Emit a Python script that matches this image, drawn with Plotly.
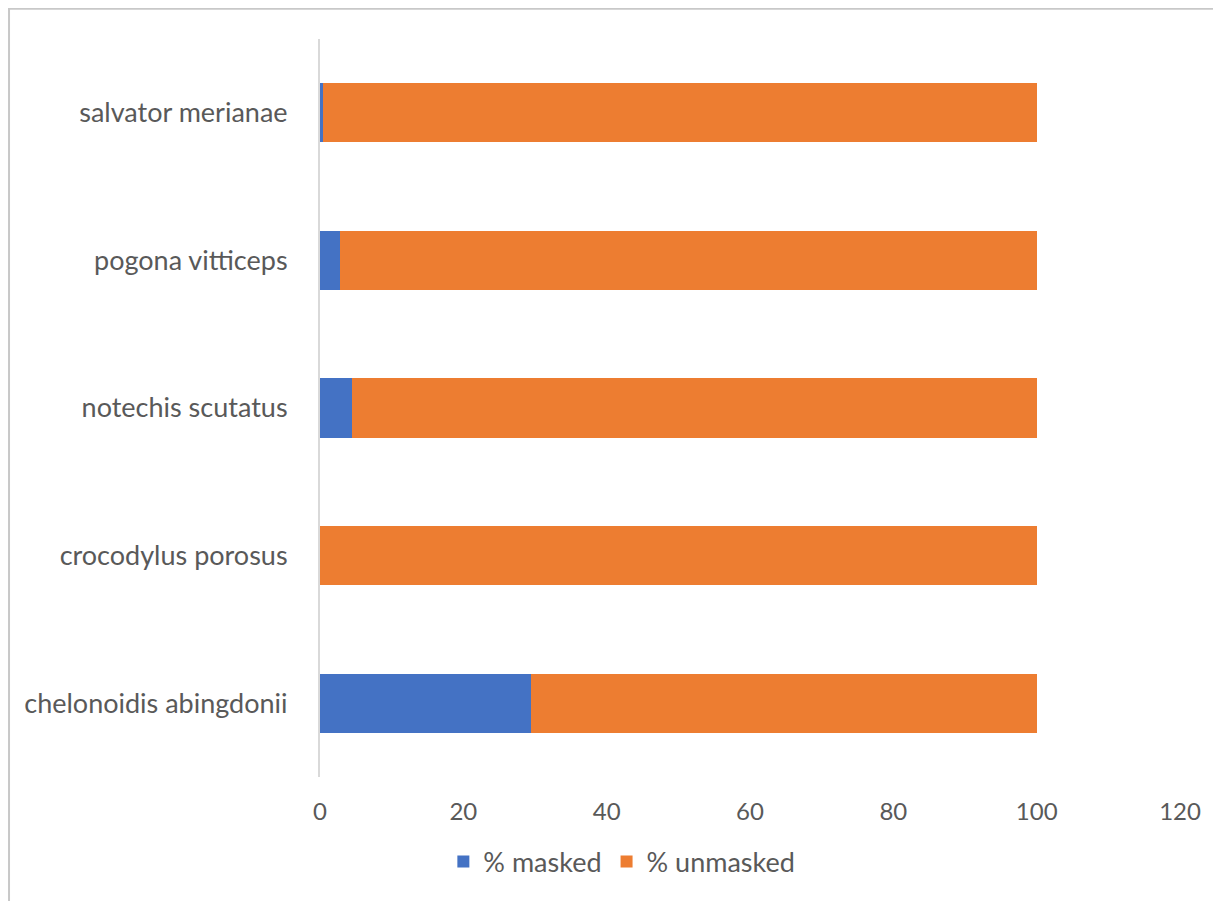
import plotly.graph_objects as go

species = ["chelonoidis abingdonii", "crocodylus porosus", "notechis scutatus",
           "pogona vitticeps", "salvator merianae"]
masked = [29.4, 0.0, 4.5, 2.8, 0.4]
unmasked = [100 - v for v in masked]
x_ticks = [0, 20, 40, 60, 80, 100, 120]

FONT = "Lato, 'Noto Sans', sans-serif"
GREY = "#595959"

fig = go.Figure()
fig.add_trace(go.Bar(y=species, x=masked, orientation="h", name="% masked",
                     marker=dict(color="#4472C4", line=dict(width=0))))
fig.add_trace(go.Bar(y=species, x=unmasked, orientation="h", name="% unmasked",
                     marker=dict(color="#ED7D31", line=dict(width=0))))

fig.update_layout(
    width=1221, height=901,
    margin=dict(l=312, r=49, t=31, b=132),
    paper_bgcolor="white", plot_bgcolor="white",
    barmode="stack", bargap=0.6,
    font=dict(family=FONT, color=GREY),
    showlegend=True,
    legend=dict(orientation="h", x=0.351, y=-0.115, xanchor="center", yanchor="middle",
                traceorder="normal", font=dict(size=27, color=GREY), itemwidth=30),
    xaxis=dict(range=[0, 120], tickvals=x_ticks, showgrid=False, zeroline=False,
               showline=False, tickfont=dict(size=24, color=GREY), ticklabelstandoff=18),
    yaxis=dict(showgrid=False, zeroline=False, showline=True, linecolor="#d9d9d9",
               linewidth=2, tickfont=dict(size=27, color=GREY), ticklabelstandoff=25),
    shapes=[
        dict(type="line", xref="paper", yref="paper", x0=-0.3628, x1=1.1, y0=1.041, y1=1.041,
             line=dict(color="#c8c8c8", width=2)),
        dict(type="line", xref="paper", yref="paper", x0=-0.3616, x1=-0.3616, y0=1.042, y1=-0.2,
             line=dict(color="#c8c8c8", width=2)),
    ],
)

fig.write_html("out.html")
